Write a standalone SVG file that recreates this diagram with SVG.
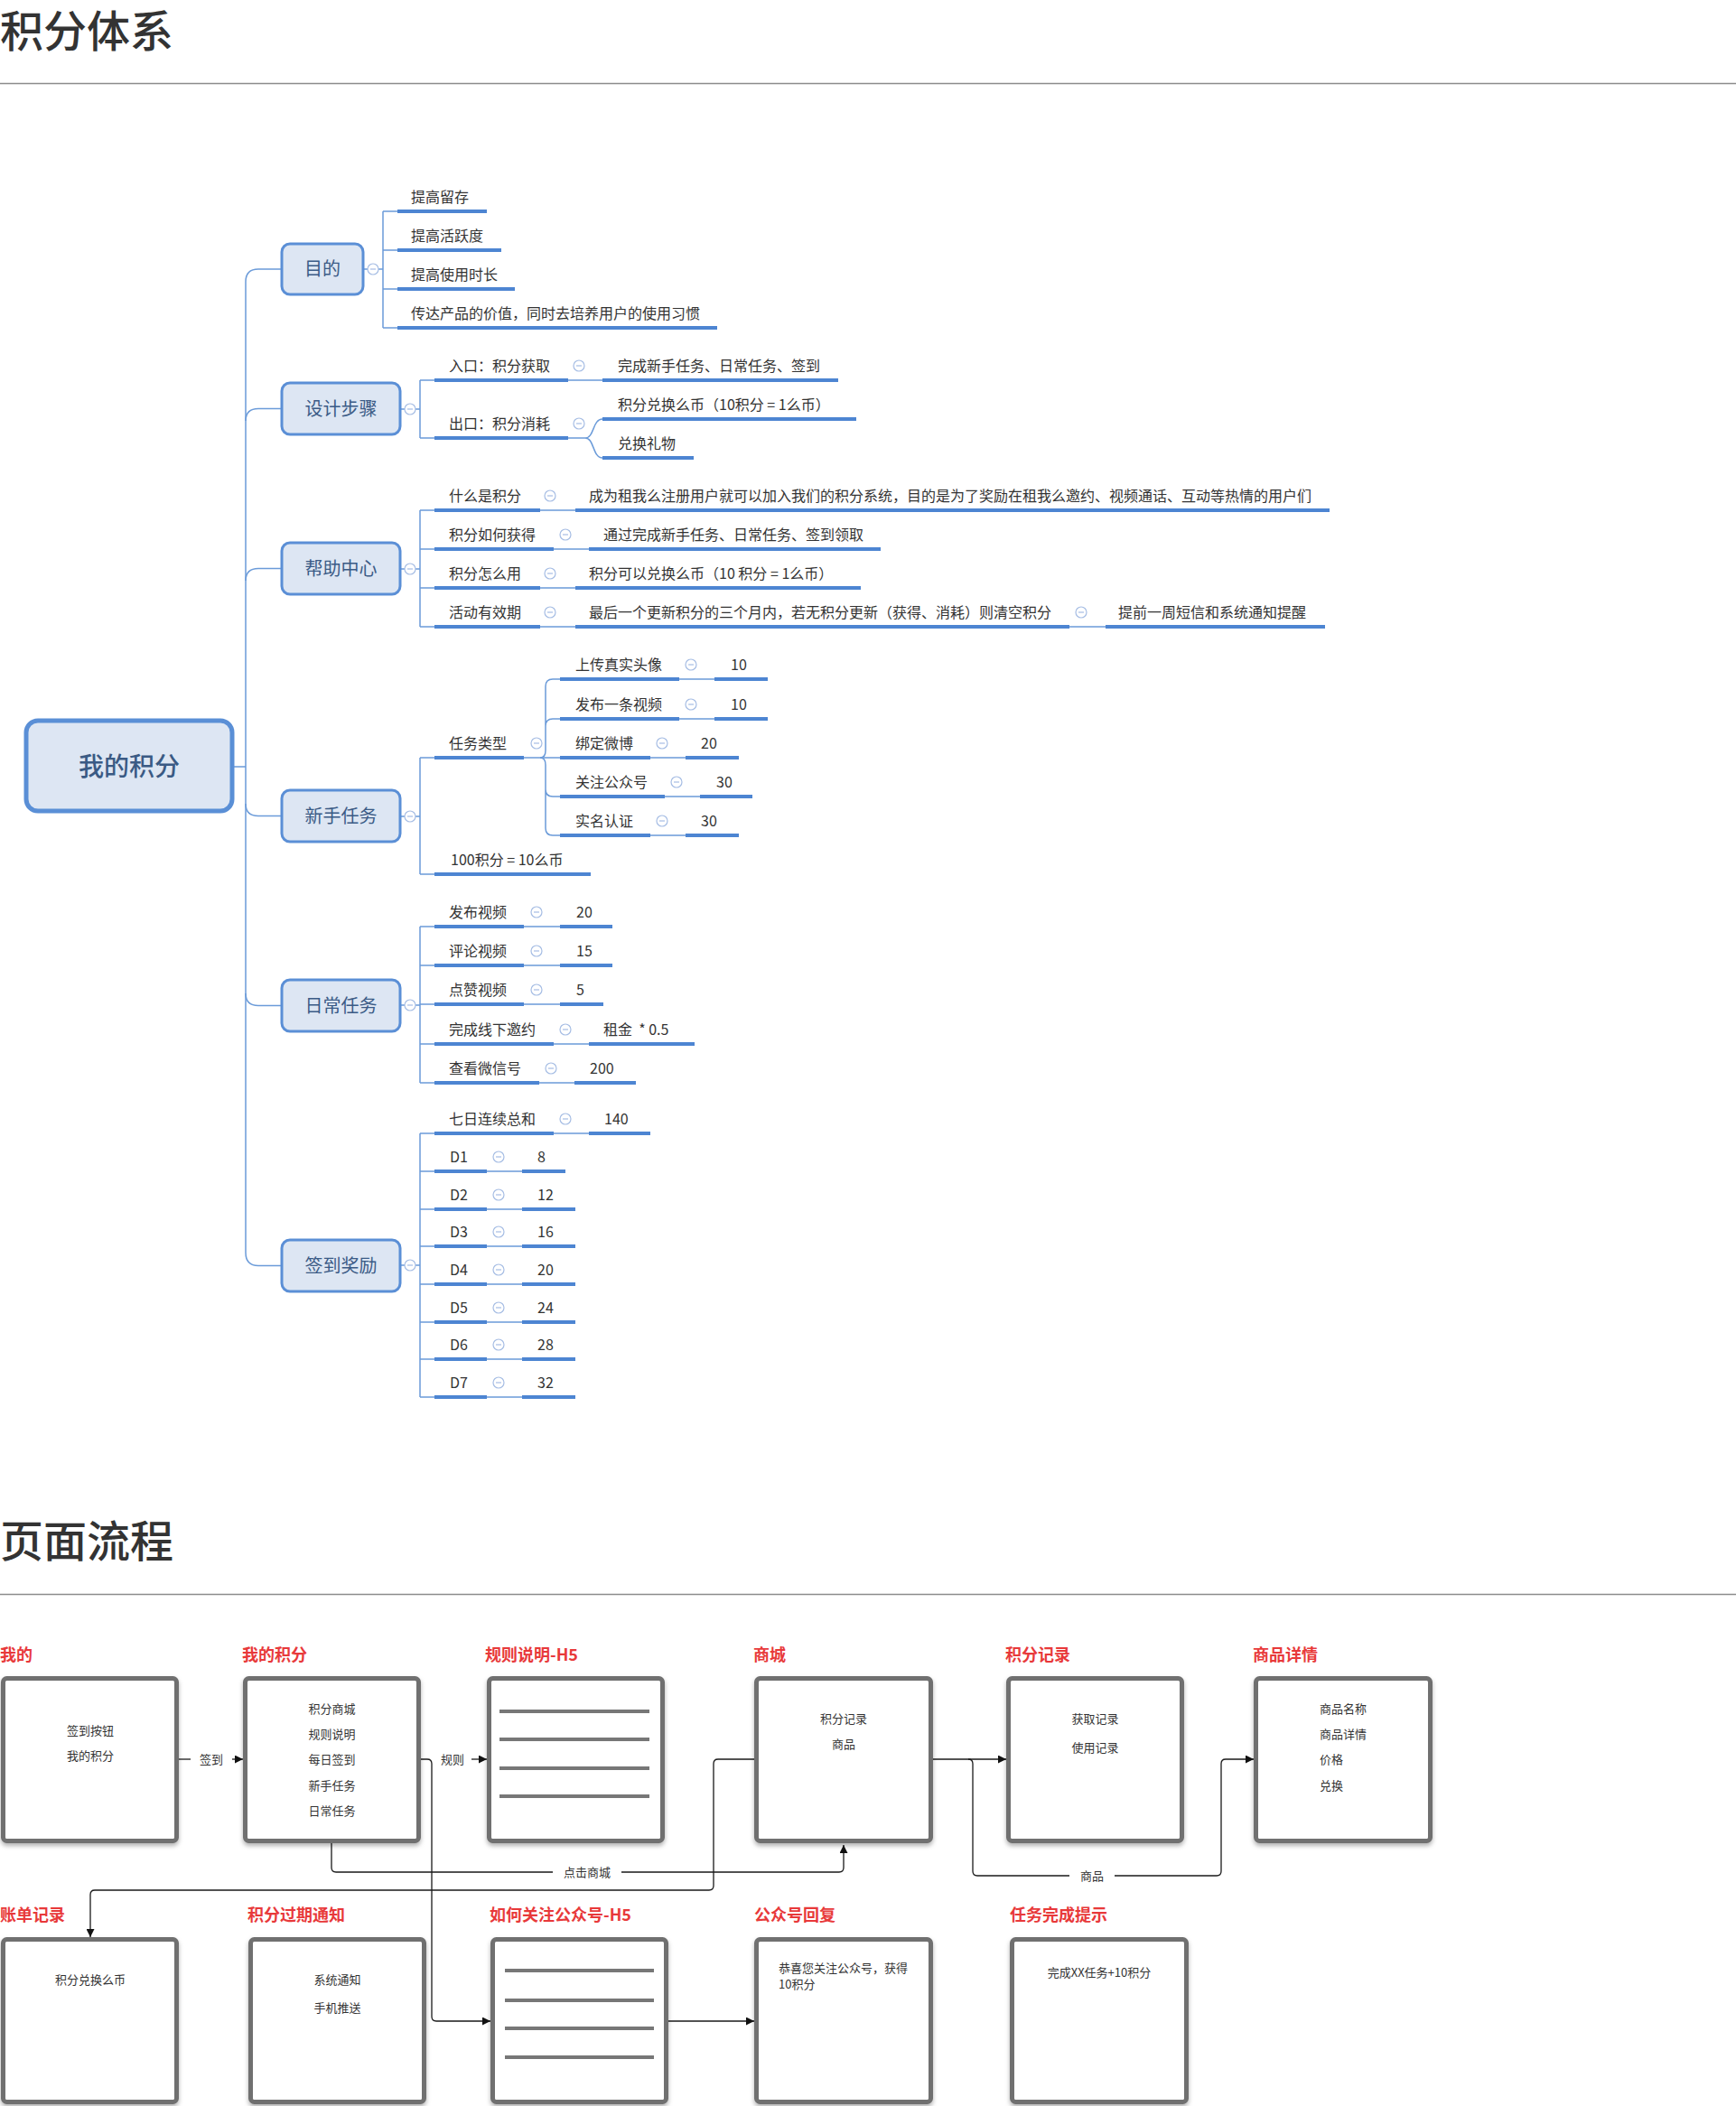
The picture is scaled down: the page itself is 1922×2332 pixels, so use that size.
<svg xmlns="http://www.w3.org/2000/svg" width="1922" height="2332" viewBox="0 0 1922 2332">
<style>
text{font-family:"Noto Sans CJK SC","Noto Sans",sans-serif;}
.h1{font-size:48px;fill:#333;font-weight:500}
.sep{stroke:#8c8c8c;stroke-width:1.5}
.root rect{fill:#dde6f3;stroke:#5a8fd6;stroke-width:5}
.root text{font-size:28px;fill:#3a5a84;text-anchor:middle;font-weight:500}
.n1 rect{fill:#dde6f3;stroke:#5b8fd6;stroke-width:3}
.n1 text{font-size:20px;fill:#3b5b86;text-anchor:middle}
.t{font-size:16px;fill:#333}
.ul{stroke:#4d85d2;stroke-width:4}
.ln{stroke:#6b9bd9;stroke-width:1.5;fill:none}
.cc{fill:#fff;stroke:#a6bde4;stroke-width:1.2}
.lbl{font-size:18px;fill:#e8393a;font-weight:700}
.box{fill:#fff;stroke:#6f6f6f;stroke-width:5}
.bt{font-size:13px;fill:#333}
.c{text-anchor:middle}
.hl{stroke:#777;stroke-width:4}
.fl{stroke:#1a1a1a;stroke-width:1.3;fill:none}
.fll{font-size:13px;fill:#333;text-anchor:middle}
</style>
<defs>
<g id="cc"><circle class="cc" r="6"/><line x1="-3" x2="3" y1="0" y2="0" stroke="#a6bde4" stroke-width="1.2"/></g>
<marker id="arr" viewBox="0 0 10 10" refX="10" refY="5" markerWidth="9" markerHeight="9" markerUnits="userSpaceOnUse" orient="auto"><path d="M0,0 L10,5 L0,10 z" fill="#111"/></marker>
<filter id="sh" x="-10%" y="-10%" width="120%" height="125%"><feDropShadow dx="0" dy="3" stdDeviation="2.5" flood-color="#000" flood-opacity="0.3"/></filter>
</defs>

<text class="h1" x="0" y="52">积分体系</text>
<line class="sep" x1="0" y1="92.5" x2="1922" y2="92.5"/>

<!-- mind map connectors -->
<g id="mm-connectors">
<path class="ln" d="M259,849 H272 M272,312 V1387"/>
<path class="ln" d="M272,312 Q272,298 286,298 H312"/>
<path class="ln" d="M272,466 Q272,452.5 286,452.5 H312"/>
<path class="ln" d="M272,643 Q272,629.5 286,629.5 H312"/>
<path class="ln" d="M272,890 Q272,903.5 286,903.5 H312"/>
<path class="ln" d="M272,1100 Q272,1113.5 286,1113.5 H312"/>
<path class="ln" d="M272,1387 Q272,1401.5 286,1401.5 H312"/>
<!-- 目的 -->
<path class="ln" d="M402,298 H407 M419,298 H424 M424,234 V363 M424,234 H440 M424,277 H440 M424,320 H440 M424,363 H440"/>
<!-- 设计步骤 -->
<path class="ln" d="M443,453 H448 M460,453 H465 M465,421 V485 M465,421 H481 M465,485 H481 M629,421 H667 M629,485 H648"/>
<path class="ln" d="M648,485 C658,485 656,464 667,464 M648,485 C658,485 656,507 667,507"/>
<!-- 帮助中心 -->
<path class="ln" d="M443,630 H448 M460,630 H465 M465,565 V694 M465,565 H481 M465,608 H481 M465,651 H481 M465,694 H481 M598,565 H637 M613,608 H652 M598,651 H637 M598,694 H637 M1184,694 H1224"/>
<!-- 新手任务 -->
<path class="ln" d="M443,904 H448 M460,904 H465 M465,839 V968 M465,839 H481 M465,968 H481 M580,839 H620"/>
<path class="ln" d="M598,839 Q604,839 604,831 V760 Q604,752 612,752 H620 M598,839 Q604,839 604,831 V804 Q604,796 612,796 H620 M598,839 Q604,839 604,847 V874 Q604,882 612,882 H620 M598,839 Q604,839 604,847 V917 Q604,925 612,925 H620"/>
<path class="ln" d="M752,752 H791 M752,796 H791 M720,839 H759 M736,882 H775 M720,925 H759"/>
<!-- 日常任务 -->
<path class="ln" d="M443,1113 H448 M460,1113 H465 M465,1026 V1199 M465,1026 H481 M465,1069 H481 M465,1112 H481 M465,1156 H481 M465,1199 H481 M580,1026 H620 M580,1069 H620 M580,1112 H620 M613,1156 H652 M597,1199 H636"/>
<!-- 签到奖励 -->
<path class="ln" d="M443,1401 H448 M460,1401 H465 M465,1255 V1547 M465,1255 H481 M465,1297 H481 M465,1339 H481 M465,1380 H481 M465,1422 H481 M465,1464 H481 M465,1505 H481 M465,1547 H481 M613,1255 H652 M539,1297 H578 M539,1339 H578 M539,1380 H578 M539,1422 H578 M539,1464 H578 M539,1505 H578 M539,1547 H578"/>
</g>

<!-- root -->
<g id="n-root" class="root"><rect x="29" y="798" width="228" height="100" rx="13"/><text x="143" y="859">我的积分</text></g>

<!-- 目的 -->
<g id="n-mudi"><g class="n1"><rect x="312" y="270" width="90" height="56" rx="9"/><text x="357" y="305">目的</text></g><use href="#cc" x="413" y="298"/></g>
<g id="mudi-1"><text class="t" x="455" y="224">提高留存</text><line class="ul" x1="440" y1="234" x2="539" y2="234"/></g>
<g id="mudi-2"><text class="t" x="455" y="267">提高活跃度</text><line class="ul" x1="440" y1="277" x2="555" y2="277"/></g>
<g id="mudi-3"><text class="t" x="455" y="310">提高使用时长</text><line class="ul" x1="440" y1="320" x2="570" y2="320"/></g>
<g id="mudi-4"><text class="t" x="455" y="353">传达产品的价值，同时去培养用户的使用习惯</text><line class="ul" x1="440" y1="363" x2="794" y2="363"/></g>

<!-- 设计步骤 -->
<g id="n-sheji"><g class="n1"><rect x="312" y="424" width="131" height="57" rx="9"/><text x="377.5" y="460">设计步骤</text></g><use href="#cc" x="454" y="453"/></g>
<g id="sheji-1"><text class="t" x="497" y="411">入口：积分获取</text><line class="ul" x1="481" y1="421" x2="629" y2="421"/><use href="#cc" x="641" y="405"/></g>
<g id="sheji-1a"><text class="t" x="684" y="411">完成新手任务、日常任务、签到</text><line class="ul" x1="667" y1="421" x2="928" y2="421"/></g>
<g id="sheji-2"><text class="t" x="497" y="475">出口：积分消耗</text><line class="ul" x1="481" y1="485" x2="629" y2="485"/><use href="#cc" x="641" y="469"/></g>
<g id="sheji-2a"><text class="t" x="684" y="454">积分兑换么币（10积分 = 1么币）</text><line class="ul" x1="667" y1="464" x2="948" y2="464"/></g>
<g id="sheji-2b"><text class="t" x="684" y="497">兑换礼物</text><line class="ul" x1="667" y1="507" x2="768" y2="507"/></g>

<!-- 帮助中心 -->
<g id="n-bangzhu"><g class="n1"><rect x="312" y="601" width="131" height="57" rx="9"/><text x="377.5" y="637">帮助中心</text></g><use href="#cc" x="454" y="630"/></g>
<g id="bz-1"><text class="t" x="497" y="555">什么是积分</text><line class="ul" x1="481" y1="565" x2="598" y2="565"/><use href="#cc" x="609" y="549"/></g>
<g id="bz-1a"><text class="t" x="652" y="555">成为租我么注册用户就可以加入我们的积分系统，目的是为了奖励在租我么邀约、视频通话、互动等热情的用户们</text><line class="ul" x1="637" y1="565" x2="1472" y2="565"/></g>
<g id="bz-2"><text class="t" x="497" y="598">积分如何获得</text><line class="ul" x1="481" y1="608" x2="613" y2="608"/><use href="#cc" x="626" y="592"/></g>
<g id="bz-2a"><text class="t" x="668" y="598">通过完成新手任务、日常任务、签到领取</text><line class="ul" x1="652" y1="608" x2="975" y2="608"/></g>
<g id="bz-3"><text class="t" x="497" y="641">积分怎么用</text><line class="ul" x1="481" y1="651" x2="598" y2="651"/><use href="#cc" x="609" y="635"/></g>
<g id="bz-3a"><text class="t" x="652" y="641">积分可以兑换么币（10 积分 = 1么币）</text><line class="ul" x1="637" y1="651" x2="953" y2="651"/></g>
<g id="bz-4"><text class="t" x="497" y="684">活动有效期</text><line class="ul" x1="481" y1="694" x2="598" y2="694"/><use href="#cc" x="609" y="678"/></g>
<g id="bz-4a"><text class="t" x="652" y="684">最后一个更新积分的三个月内，若无积分更新（获得、消耗）则清空积分</text><line class="ul" x1="637" y1="694" x2="1184" y2="694"/><use href="#cc" x="1197" y="678"/></g>
<g id="bz-4b"><text class="t" x="1238" y="684">提前一周短信和系统通知提醒</text><line class="ul" x1="1224" y1="694" x2="1467" y2="694"/></g>

<!-- 新手任务 -->
<g id="n-xinshou"><g class="n1"><rect x="312" y="875" width="131" height="57" rx="9"/><text x="377.5" y="911">新手任务</text></g><use href="#cc" x="454" y="904"/></g>
<g id="xs-1"><text class="t" x="497" y="829">任务类型</text><line class="ul" x1="481" y1="839" x2="580" y2="839"/><use href="#cc" x="594" y="823"/></g>
<g id="xs-1-1"><text class="t" x="637" y="742">上传真实头像</text><line class="ul" x1="620" y1="752" x2="752" y2="752"/><use href="#cc" x="765" y="736"/><text class="t" x="809" y="742">10</text><line class="ul" x1="791" y1="752" x2="850" y2="752"/></g>
<g id="xs-1-2"><text class="t" x="637" y="786">发布一条视频</text><line class="ul" x1="620" y1="796" x2="752" y2="796"/><use href="#cc" x="765" y="780"/><text class="t" x="809" y="786">10</text><line class="ul" x1="791" y1="796" x2="850" y2="796"/></g>
<g id="xs-1-3"><text class="t" x="637" y="829">绑定微博</text><line class="ul" x1="620" y1="839" x2="720" y2="839"/><use href="#cc" x="733" y="823"/><text class="t" x="776" y="829">20</text><line class="ul" x1="759" y1="839" x2="818" y2="839"/></g>
<g id="xs-1-4"><text class="t" x="637" y="872">关注公众号</text><line class="ul" x1="620" y1="882" x2="736" y2="882"/><use href="#cc" x="749" y="866"/><text class="t" x="793" y="872">30</text><line class="ul" x1="775" y1="882" x2="833" y2="882"/></g>
<g id="xs-1-5"><text class="t" x="637" y="915">实名认证</text><line class="ul" x1="620" y1="925" x2="720" y2="925"/><use href="#cc" x="733" y="909"/><text class="t" x="776" y="915">30</text><line class="ul" x1="759" y1="925" x2="818" y2="925"/></g>
<g id="xs-2"><text class="t" x="499" y="958">100积分 = 10么币</text><line class="ul" x1="481" y1="968" x2="654" y2="968"/></g>

<!-- 日常任务 -->
<g id="n-richang"><g class="n1"><rect x="312" y="1085" width="131" height="57" rx="9"/><text x="377.5" y="1121">日常任务</text></g><use href="#cc" x="454" y="1113"/></g>
<g id="rc-1"><text class="t" x="497" y="1016">发布视频</text><line class="ul" x1="481" y1="1026" x2="580" y2="1026"/><use href="#cc" x="594" y="1010"/><text class="t" x="638" y="1016">20</text><line class="ul" x1="620" y1="1026" x2="678" y2="1026"/></g>
<g id="rc-2"><text class="t" x="497" y="1059">评论视频</text><line class="ul" x1="481" y1="1069" x2="580" y2="1069"/><use href="#cc" x="594" y="1053"/><text class="t" x="638" y="1059">15</text><line class="ul" x1="620" y1="1069" x2="678" y2="1069"/></g>
<g id="rc-3"><text class="t" x="497" y="1102">点赞视频</text><line class="ul" x1="481" y1="1112" x2="580" y2="1112"/><use href="#cc" x="594" y="1096"/><text class="t" x="638" y="1102">5</text><line class="ul" x1="620" y1="1112" x2="668" y2="1112"/></g>
<g id="rc-4"><text class="t" x="497" y="1146">完成线下邀约</text><line class="ul" x1="481" y1="1156" x2="613" y2="1156"/><use href="#cc" x="626" y="1140"/><text class="t" x="668" y="1146" style="white-space:pre">租金  * 0.5</text><line class="ul" x1="652" y1="1156" x2="769" y2="1156"/></g>
<g id="rc-5"><text class="t" x="497" y="1189">查看微信号</text><line class="ul" x1="481" y1="1199" x2="597" y2="1199"/><use href="#cc" x="610" y="1183"/><text class="t" x="653" y="1189">200</text><line class="ul" x1="636" y1="1199" x2="704" y2="1199"/></g>

<!-- 签到奖励 -->
<g id="n-qiandao"><g class="n1"><rect x="312" y="1373" width="131" height="57" rx="9"/><text x="377.5" y="1409">签到奖励</text></g><use href="#cc" x="454" y="1401"/></g>
<g id="qd-0"><text class="t" x="497" y="1245">七日连续总和</text><line class="ul" x1="481" y1="1255" x2="613" y2="1255"/><use href="#cc" x="626" y="1239"/><text class="t" x="669" y="1245">140</text><line class="ul" x1="652" y1="1255" x2="720" y2="1255"/></g>
<g id="qd-1"><text class="t" x="498" y="1287">D1</text><line class="ul" x1="481" y1="1297" x2="539" y2="1297"/><use href="#cc" x="552" y="1281"/><text class="t" x="595" y="1287">8</text><line class="ul" x1="578" y1="1297" x2="626" y2="1297"/></g>
<g id="qd-2"><text class="t" x="498" y="1329">D2</text><line class="ul" x1="481" y1="1339" x2="539" y2="1339"/><use href="#cc" x="552" y="1323"/><text class="t" x="595" y="1329">12</text><line class="ul" x1="578" y1="1339" x2="637" y2="1339"/></g>
<g id="qd-3"><text class="t" x="498" y="1370">D3</text><line class="ul" x1="481" y1="1380" x2="539" y2="1380"/><use href="#cc" x="552" y="1364"/><text class="t" x="595" y="1370">16</text><line class="ul" x1="578" y1="1380" x2="637" y2="1380"/></g>
<g id="qd-4"><text class="t" x="498" y="1412">D4</text><line class="ul" x1="481" y1="1422" x2="539" y2="1422"/><use href="#cc" x="552" y="1406"/><text class="t" x="595" y="1412">20</text><line class="ul" x1="578" y1="1422" x2="637" y2="1422"/></g>
<g id="qd-5"><text class="t" x="498" y="1454">D5</text><line class="ul" x1="481" y1="1464" x2="539" y2="1464"/><use href="#cc" x="552" y="1448"/><text class="t" x="595" y="1454">24</text><line class="ul" x1="578" y1="1464" x2="637" y2="1464"/></g>
<g id="qd-6"><text class="t" x="498" y="1495">D6</text><line class="ul" x1="481" y1="1505" x2="539" y2="1505"/><use href="#cc" x="552" y="1489"/><text class="t" x="595" y="1495">28</text><line class="ul" x1="578" y1="1505" x2="637" y2="1505"/></g>
<g id="qd-7"><text class="t" x="498" y="1537">D7</text><line class="ul" x1="481" y1="1547" x2="539" y2="1547"/><use href="#cc" x="552" y="1531"/><text class="t" x="595" y="1537">32</text><line class="ul" x1="578" y1="1547" x2="637" y2="1547"/></g>

<!-- page flow -->
<text class="h1" x="0" y="1724">页面流程</text>
<line class="sep" x1="0" y1="1765.5" x2="1922" y2="1765.5"/>

<g id="flow-connectors">
<path class="fl" d="M198,1948 H211"/>
<path class="fl" d="M257,1948 H269" marker-end="url(#arr)"/>
<text class="fll" x="234" y="1953">签到</text>
<path class="fl" d="M466,1948 H473 Q478,1948 478,1953 V2233 Q478,2238 483,2238 H543" marker-end="url(#arr)"/>
<path class="fl" d="M522,1948 H539" marker-end="url(#arr)"/>
<text class="fll" x="501" y="1953">规则</text>
<path class="fl" d="M367,2041 V2068 Q367,2073 372,2073 H612"/>
<path class="fl" d="M688,2073 H929 Q934,2073 934,2068 V2043" marker-end="url(#arr)"/>
<text class="fll" x="650" y="2078">点击商城</text>
<path class="fl" d="M835,1948 H795 Q790,1948 790,1953 V2088 Q790,2093 785,2093 H105 Q100,2093 100,2098 V2145" marker-end="url(#arr)"/>
<path class="fl" d="M1033,1948 H1114" marker-end="url(#arr)"/>
<path class="fl" d="M1072,1948 Q1077,1948 1077,1953 V2072 Q1077,2077 1082,2077 H1184"/>
<path class="fl" d="M1234,2077 H1347 Q1352,2077 1352,2072 V1953 Q1352,1948 1357,1948 H1388" marker-end="url(#arr)"/>
<text class="fll" x="1209" y="2082">商品</text>
<path class="fl" d="M740,2238 H835" marker-end="url(#arr)"/>
</g>

<g id="p-wode"><text class="lbl" x="0" y="1839">我的</text><rect class="box" filter="url(#sh)" x="3.5" y="1858.5" width="192" height="180" rx="4"/><text class="bt c" x="100" y="1921">签到按钮</text><text class="bt c" x="100" y="1949">我的积分</text></g>
<g id="p-wodejifen"><text class="lbl" x="268" y="1839">我的积分</text><rect class="box" filter="url(#sh)" x="271.5" y="1858.5" width="192" height="180" rx="4"/><text class="bt c" x="367.5" y="1897">积分商城</text><text class="bt c" x="367.5" y="1925">规则说明</text><text class="bt c" x="367.5" y="1953">每日签到</text><text class="bt c" x="367.5" y="1982">新手任务</text><text class="bt c" x="367.5" y="2010">日常任务</text></g>
<g id="p-guize"><text class="lbl" x="537" y="1839">规则说明-H5</text><rect class="box" filter="url(#sh)" x="541.5" y="1858.5" width="192" height="180" rx="4"/><line class="hl" x1="553" y1="1895" x2="719" y2="1895"/><line class="hl" x1="553" y1="1926" x2="719" y2="1926"/><line class="hl" x1="553" y1="1958" x2="719" y2="1958"/><line class="hl" x1="553" y1="1989" x2="719" y2="1989"/></g>
<g id="p-shangcheng"><text class="lbl" x="834" y="1839">商城</text><rect class="box" filter="url(#sh)" x="837.5" y="1858.5" width="193" height="180" rx="4"/><text class="bt c" x="934" y="1908">积分记录</text><text class="bt c" x="934" y="1936">商品</text></g>
<g id="p-jifenjilu"><text class="lbl" x="1113" y="1839">积分记录</text><rect class="box" filter="url(#sh)" x="1116.5" y="1858.5" width="192" height="180" rx="4"/><text class="bt c" x="1212.5" y="1908">获取记录</text><text class="bt c" x="1212.5" y="1940">使用记录</text></g>
<g id="p-shangpin"><text class="lbl" x="1387" y="1839">商品详情</text><rect class="box" filter="url(#sh)" x="1390.5" y="1858.5" width="193" height="180" rx="4"/><text class="bt" x="1461" y="1897">商品名称</text><text class="bt" x="1461" y="1925">商品详情</text><text class="bt" x="1461" y="1953">价格</text><text class="bt" x="1461" y="1982">兑换</text></g>

<g id="p-zhangdan"><text class="lbl" x="0" y="2127">账单记录</text><rect class="box" filter="url(#sh)" x="3.5" y="2147.5" width="192" height="180" rx="4"/><text class="bt c" x="100" y="2197">积分兑换么币</text></g>
<g id="p-guoqi"><text class="lbl" x="274" y="2127">积分过期通知</text><rect class="box" filter="url(#sh)" x="277.5" y="2147.5" width="192" height="180" rx="4"/><text class="bt c" x="373.5" y="2197">系统通知</text><text class="bt c" x="373.5" y="2228">手机推送</text></g>
<g id="p-guanzhu"><text class="lbl" x="542" y="2127">如何关注公众号-H5</text><rect class="box" filter="url(#sh)" x="545.5" y="2147.5" width="192" height="180" rx="4"/><line class="hl" x1="559" y1="2182" x2="724" y2="2182"/><line class="hl" x1="559" y1="2215" x2="724" y2="2215"/><line class="hl" x1="559" y1="2246" x2="724" y2="2246"/><line class="hl" x1="559" y1="2278" x2="724" y2="2278"/></g>
<g id="p-huifu"><text class="lbl" x="835" y="2127">公众号回复</text><rect class="box" filter="url(#sh)" x="837.5" y="2147.5" width="193" height="180" rx="4"/><text class="bt" x="862" y="2184">恭喜您关注公众号，获得</text><text class="bt" x="862" y="2202">10积分</text></g>
<g id="p-tishi"><text class="lbl" x="1118" y="2127">任务完成提示</text><rect class="box" filter="url(#sh)" x="1120.5" y="2147.5" width="193" height="180" rx="4"/><text class="bt c" x="1217" y="2189">完成XX任务+10积分</text></g>
</svg>
